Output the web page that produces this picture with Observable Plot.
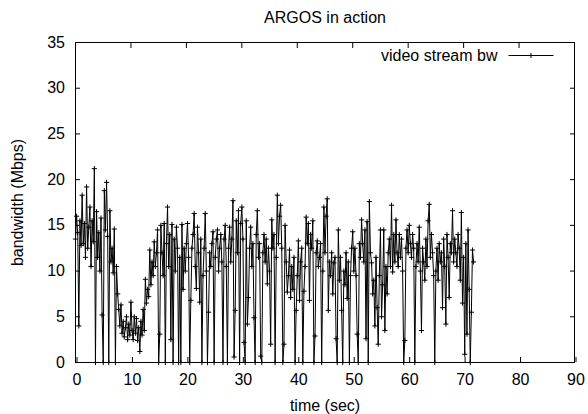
<!DOCTYPE html>
<html>
<head>
<meta charset="utf-8">
<script src="https://cdn.jsdelivr.net/npm/d3@7"></script>
<script src="https://cdn.jsdelivr.net/npm/@observablehq/plot@0.6"></script>
<style>
  html, body { margin: 0; padding: 0; background: #fff; }
</style>
</head>
<body>
<div id="chart"></div>
<script>
// ---- data ----
const title = "ARGOS in action";
const xLabel = "time (sec)";
const yLabel = "bandwidth (Mbps)";
const seriesName = "video stream bw";
const sampleStep = 0.2; // seconds between samples
const xTicks = [0, 10, 20, 30, 40, 50, 60, 70, 80, 90];
const yTicks = [0, 5, 10, 15, 20, 25, 30, 35];
const bandwidth = [
  13.5, 16.0, 14.2, 4.0, 15.5, 12.8, 18.3, 13.0, 15.2, 11.5,
  19.2, 12.5, 14.8, 17.0, 10.5, 15.5, 13.2, 21.2, 0, 16.5,
  11.5, 14.2, 10.0, 15.8, 5.2, 0, 18.8, 14.5, 19.7, 13.8,
  0, 16.6, 11.0, 12.5, 9.8, 14.6, 0, 10.5, 7.5, 5.8,
  4.0, 6.3, 3.2, 4.5, 2.8, 3.8, 5.0, 2.5, 4.2, 3.0,
  6.6, 3.5, 2.5, 5.0, 3.2, 4.8, 2.4, 3.8, 1.2, 4.5,
  3.0, 5.8, 3.5, 9.1, 6.5, 8.0, 7.2, 12.3, 8.5, 11.0,
  9.5, 13.2, 10.5, 12.0, 14.5, 0, 3.1, 15.0, 12.0, 9.5,
  15.2, 0, 13.0, 17.0, 10.5, 14.0, 2.5, 15.1, 0, 13.5,
  10.0, 14.8, 12.5, 0, 11.5, 0, 15.1, 8.0, 12.5, 10.0,
  13.0, 15.2, 11.5, 0, 6.8, 12.5, 14.0, 16.3, 10.5, 8.1,
  14.8, 12.0, 6.6, 13.5, 0, 9.5, 12.5, 16.3, 10.0, 0,
  5.5, 12.0, 10.5, 13.0, 14.3, 0, 11.5, 13.5, 14.5, 10.0,
  12.5, 14.0, 11.0, 0, 13.5, 15.0, 10.5, 0, 12.5, 14.8,
  11.0, 13.5, 17.7, 0.6, 5.7, 15.5, 12.0, 16.6, 0, 15.2,
  17.0, 13.5, 2.2, 0, 15.5, 4.2, 7.1, 12.5, 14.8, 10.5,
  13.0, 4.9, 0, 14.0, 16.6, 11.5, 13.0, 0.7, 0, 12.0,
  14.0, 11.0, 13.5, 8.6, 12.5, 10.0, 2.0, 15.6, 12.5, 14.0,
  0, 11.5, 18.3, 13.0, 16.0, 17.2, 12.5, 0, 2.0, 15.0,
  11.0, 7.7, 9.5, 12.3, 7.1, 10.5, 8.0, 11.5, 0, 5.7,
  9.5, 13.3, 6.8, 11.0, 12.5, 0, 7.8, 10.5, 15.9, 13.0,
  15.2, 6.8, 14.0, 12.5, 15.5, 0, 2.9, 12.0, 13.3, 10.5,
  11.5, 13.0, 0, 10.0, 17.0, 12.0, 16.0, 17.9, 5.7, 11.0,
  9.5, 12.0, 7.5, 10.9, 11.5, 2.6, 0, 14.5, 9.0, 11.5,
  5.7, 0, 10.0, 8.5, 12.0, 7.0, 11.0, 0, 9.5, 12.5,
  14.3, 10.0, 12.5, 9.5, 3.1, 0, 13.0, 11.5, 15.6, 13.0,
  11.0, 14.5, 2.6, 15.4, 0, 17.6, 12.0, 10.9, 7.5, 9.0,
  4.0, 11.5, 6.0, 2.0, 9.5, 14.5, 5.0, 8.5, 14.5, 3.5,
  10.5, 7.5, 12.0, 13.5, 10.5, 17.2, 9.9, 14.0, 11.0, 15.6,
  12.0, 10.5, 14.0, 11.5, 13.5, 10.0, 0, 2.4, 12.5, 14.5,
  12.0, 15.0, 13.0, 11.5, 14.0, 12.5, 0, 10.5, 13.0, 11.0,
  14.8, 10.0, 3.5, 12.5, 11.0, 9.0, 13.5, 10.5, 15.5, 17.3,
  11.5, 14.0, 12.0, 9.5, 0, 10.0, 12.5, 9.0, 13.0, 11.0,
  12.0, 6.0, 13.5, 10.5, 4.2, 14.0, 11.5, 7.1, 13.0, 12.0,
  16.6, 11.0, 13.5, 12.0, 10.5, 14.0, 12.5, 9.0, 16.4, 6.5,
  11.5, 0.9, 13.0, 3.1, 14.5, 8.0, 0, 5.5, 12.3, 11.0
];

// table built from the arrays
const data = bandwidth.map((v, i) => ({t: +(i * sampleStep).toFixed(2), bw: v}));

// legend key: short line with a "+" in the middle (gnuplot style)
const legendKey = {
  draw(ctx) {
    ctx.moveTo(-22.5, 0); ctx.lineTo(22.5, 0);
    ctx.moveTo(0, -2.5); ctx.lineTo(0, 2.5);
  }
};

const font = "'Liberation Sans', Arial, Helvetica, sans-serif";
const fs = 16;

const chart = Plot.plot({
  width: 588,
  height: 414,
  marginLeft: 75,
  marginRight: 14,
  marginTop: 42,
  marginBottom: 52,
  style: {fontFamily: font, fontSize: fs + "px", background: "#fff", color: "#000"},
  x: {domain: [0, 90], ticks: xTicks},
  y: {domain: [0, 35], ticks: yTicks},
  marks: [
    Plot.frame({stroke: "#000", strokeWidth: 1}),
    Plot.axisX({ticks: xTicks, tickSize: -5, tickPadding: 16, dx: 1.5, label: null, fontSize: fs}),
    Plot.axisX({ticks: xTicks, anchor: "top", tickSize: -5, tickFormat: () => "", label: null}),
    Plot.axisY({ticks: yTicks, tickSize: -5, tickPadding: 15.5, label: null, fontSize: fs}),
    Plot.axisY({ticks: yTicks, anchor: "right", tickSize: -5, tickFormat: () => "", label: null}),
    Plot.line(data, {x: "t", y: "bw", stroke: "#000", strokeWidth: 1}),
    Plot.dot(data, {x: "t", y: "bw", symbol: "plus", r: 1.8, stroke: "#000", strokeWidth: 1}),
    // title & axis labels
    Plot.text([title], {frameAnchor: "top", dy: -25, lineAnchor: "middle", fontSize: fs, fill: "#000"}),
    Plot.text([xLabel], {frameAnchor: "bottom", dy: 43, lineAnchor: "middle", fontSize: fs, fill: "#000"}),
    Plot.text([yLabel], {frameAnchor: "left", dx: -58, rotate: -90, lineAnchor: "middle", textAnchor: "middle", fontSize: fs, fill: "#000"}),
    // legend
    Plot.text([seriesName], {frameAnchor: "top-right", dx: -77, dy: 13, textAnchor: "end", lineAnchor: "middle", fontSize: fs, fill: "#000"}),
    Plot.dot([seriesName], {frameAnchor: "top-right", dx: -43.5, dy: 13, symbol: legendKey, r: 3, fill: "none", stroke: "#000", strokeWidth: 1})
  ]
});

document.getElementById("chart").appendChild(chart);
</script>
</body>
</html>
